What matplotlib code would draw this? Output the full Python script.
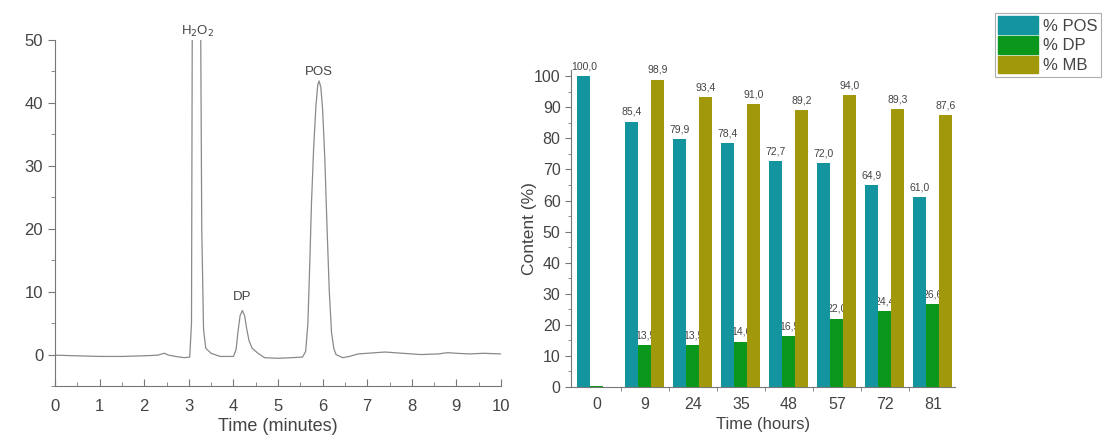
import matplotlib
matplotlib.use("Agg")
import matplotlib.pyplot as plt
from matplotlib.patches import Patch
from matplotlib.ticker import MultipleLocator, FixedLocator
import numpy as np

plt.rcParams['font.family'] = ['Liberation Sans', 'DejaVu Sans']

# chromatogram trace
trace_time = [0.0, 0.5, 1.0, 1.5, 2.0, 2.3, 2.45, 2.55, 2.7, 2.9, 3.02, 3.06, 3.08,
              3.26, 3.29, 3.33, 3.38, 3.5, 3.7, 4.0, 4.06, 4.1, 4.15, 4.2, 4.25,
              4.3, 4.35, 4.42, 4.55, 4.7, 5.0, 5.3, 5.55, 5.62, 5.67, 5.71, 5.75,
              5.8, 5.85, 5.89, 5.92, 5.96, 6.0, 6.05, 6.1, 6.15, 6.2, 6.25, 6.3,
              6.45, 6.6, 6.8, 7.0, 7.4, 7.8, 8.2, 8.6, 8.8, 9.0, 9.3, 9.6, 10.0]
trace_signal = [-0.1, -0.2, -0.3, -0.3, -0.2, -0.1, 0.2, -0.1, -0.3, -0.5, -0.4, 5, 60,
                60, 20, 4, 1.0, 0.2, -0.3, -0.3, 0.8, 3.5, 6.2, 7.0, 6.2,
                4.0, 2.2, 1.0, 0.2, -0.5, -0.6, -0.5, -0.4, 0.5, 5, 14, 24,
                33, 39.5, 42.8, 43.5, 42.5, 39, 31, 20, 10, 3.5, 1.0, 0.0,
                -0.5, -0.3, 0.1, 0.2, 0.4, 0.2, 0.0, 0.1, 0.3, 0.2, 0.1, 0.2, 0.1]
peak_names = ['H$_2$O$_2$', 'DP', 'POS']
peak_x = [3.2, 4.2, 5.92]
peak_y = [51.3, 9.1, 44.9]

# bar chart data
hours = ['0', '9', '24', '35', '48', '57', '72', '81']
pos = [100.0, 85.4, 79.9, 78.4, 72.7, 72.0, 64.9, 61.0]
dp = [0.3, 13.5, 13.5, 14.6, 16.5, 22.0, 24.4, 26.6]
mb = [np.nan, 98.9, 93.4, 91.0, 89.2, 94.0, 89.3, 87.6]
dp_labels = [None, '13,5', '13,5', '14,6', '16,5', '22,0', '24,4', '26,6']

c_pos = '#14949e'
c_dp = '#0b961c'
c_mb = '#a2980c'
txt = '#444444'
spine = '#777777'

fig = plt.figure(figsize=(11.05, 4.37), dpi=100)

# ---- left: chromatogram ----
ax1 = fig.add_axes([0.0498, 0.1167, 0.4036, 0.7918])
ax1.plot(trace_time, trace_signal, color='#8a8a8a', lw=0.9)
ax1.set_xlim(0, 10)
ax1.set_ylim(-5, 50)
ax1.xaxis.set_major_locator(MultipleLocator(1))
ax1.xaxis.set_minor_locator(MultipleLocator(0.5))
ax1.yaxis.set_major_locator(FixedLocator([0, 10, 20, 30, 40, 50]))
ax1.yaxis.set_minor_locator(FixedLocator([-5, 5, 15, 25, 35, 45]))
for s in ['top', 'right']:
    ax1.spines[s].set_visible(False)
for s in ['left', 'bottom']:
    ax1.spines[s].set_color(spine)
ax1.tick_params(axis='x', which='both', direction='in', colors=spine, labelcolor=txt,
                labelsize=12, pad=9)
ax1.tick_params(axis='x', which='major', length=5)
ax1.tick_params(axis='x', which='minor', length=3)
ax1.tick_params(axis='y', which='both', direction='out', colors=spine, labelcolor=txt,
                labelsize=12)
ax1.tick_params(axis='y', which='major', length=5)
ax1.tick_params(axis='y', which='minor', length=3)
ax1.set_xlabel('Time (minutes)', fontsize=13, color=txt, labelpad=3)
for name, x, y in zip(peak_names, peak_x, peak_y):
    ax1.text(x, y, name, ha='center', va='center', fontsize=9.5, color=txt, clip_on=False)

# ---- right: bar chart ----
ax2 = fig.add_axes([0.5167, 0.1144, 0.3475, 0.7254])
idx = np.arange(len(hours))
w = 0.27
ax2.bar(idx - w, pos, w, color=c_pos, zorder=3)
ax2.bar(idx, dp, w, color=c_dp, zorder=3)
ax2.bar(idx + w, mb, w, color=c_mb, zorder=3)

for i in idx:
    ax2.text(i - w, pos[i] + 1.5, f'{pos[i]:.1f}'.replace('.', ','), ha='center',
             va='bottom', fontsize=7.5, color=txt, zorder=1)
    if not np.isnan(mb[i]):
        ax2.text(i + w, mb[i] + 1.5, f'{mb[i]:.1f}'.replace('.', ','), ha='center',
                 va='bottom', fontsize=7.5, color=txt, zorder=1)
    if dp_labels[i]:
        ax2.text(i, dp[i] + 1.5, dp_labels[i], ha='center', va='bottom',
                 fontsize=7.5, color=txt, zorder=1)

ax2.set_xlim(-0.54, 7.46)
ax2.set_ylim(0, 102)
ax2.set_xticks(idx)
ax2.set_xticklabels(hours)
ax2.xaxis.set_minor_locator(FixedLocator(idx[:-1] + 0.5))
ax2.yaxis.set_major_locator(MultipleLocator(10))
ax2.yaxis.set_minor_locator(MultipleLocator(5))
for s in ['top', 'right']:
    ax2.spines[s].set_visible(False)
for s in ['left', 'bottom']:
    ax2.spines[s].set_color(spine)
ax2.tick_params(axis='x', which='major', length=0, labelsize=11.5, labelcolor=txt, pad=7)
ax2.tick_params(axis='x', which='minor', length=3, direction='out', colors=spine)
ax2.tick_params(axis='y', which='both', direction='out', colors=spine, labelcolor=txt,
                labelsize=11.5)
ax2.tick_params(axis='y', which='major', length=4)
ax2.tick_params(axis='y', which='minor', length=2)
ax2.set_xlabel('Time (hours)', fontsize=12, color=txt, labelpad=4)
ax2.set_ylabel('Content (%)', fontsize=12.5, color=txt, labelpad=-2)

handles = [Patch(color=c_pos), Patch(color=c_dp), Patch(color=c_mb)]
leg = fig.legend(handles, ['% POS', '% DP', '% MB'], loc='upper left',
                 bbox_to_anchor=(0.900, 0.970), fontsize=12, frameon=True,
                 fancybox=False, edgecolor='#999999', handlelength=2.4,
                 handleheight=1.25, handletextpad=0.3, labelspacing=0.12,
                 borderpad=0.2, borderaxespad=0)
leg.get_frame().set_linewidth(0.8)
for t in leg.get_texts():
    t.set_color(txt)

plt.savefig('out.png', dpi=100)
